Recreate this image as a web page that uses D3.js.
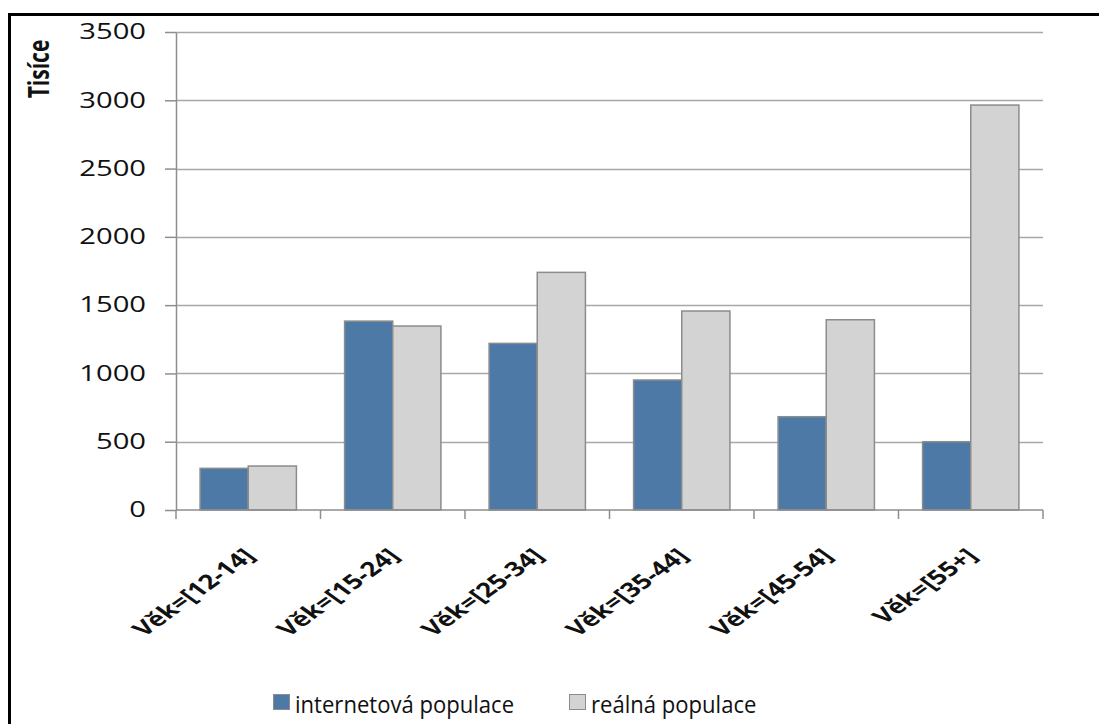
<!DOCTYPE html>
<html>
<head>
<meta charset="utf-8">
<script src="https://cdn.jsdelivr.net/npm/d3@7"></script>
<style>
  html, body { margin: 0; padding: 0; background: #ffffff; }
  svg { display: block; }
  text { font-family: "Open Sans", "Noto Sans", sans-serif; fill: #111; }
</style>
</head>
<body>
<svg id="chart" width="1099" height="724"></svg>
<script>
// Age groups and population counts (thousands)
const categories = ["Věk=[12-14]", "Věk=[15-24]", "Věk=[25-34]", "Věk=[35-44]", "Věk=[45-54]", "Věk=[55+]"];
const seriesNames = ["internetová populace", "reálná populace"];
const internetPop = [305, 1383, 1220, 952, 683, 500];
const realPop = [322, 1347, 1740, 1457, 1393, 2965];
const yTicks = [0, 500, 1000, 1500, 2000, 2500, 3000, 3500];
const yTitle = "Tisíce";

const colors = { "internetová populace": "#4d79a6", "reálná populace": "#d3d3d3" };
const stretch = 1.39; // horizontal widening of axis lettering

const svg = d3.select("#chart");
const W = 1099, H = 724;
const plot = { left: 176, right: 1043, top: 32, bottom: 510 };

svg.append("rect").attr("width", W).attr("height", H).attr("fill", "#fff");

// frame around the chart (top and left edges)
svg.append("path")
  .attr("d", `M9.5,${H} L9.5,14.5 L${W},14.5`)
  .attr("fill", "none").attr("stroke", "#000").attr("stroke-width", 3);

const x = d3.scaleBand().domain(categories).range([plot.left, plot.right]).padding(0);
const xs = d3.scaleBand().domain(seriesNames).range([0, x.bandwidth()]).paddingInner(0).paddingOuter(0.5);
const y = d3.scaleLinear().domain([0, 3500]).range([plot.bottom, plot.top]);

const rows = categories.map((c, i) => ({ cat: c, values: [
  { s: seriesNames[0], v: internetPop[i] },
  { s: seriesNames[1], v: realPop[i] }
]}));

// gridlines
svg.append("g").selectAll("line").data(yTicks.filter(t => t > 0)).join("line")
  .attr("x1", plot.left).attr("x2", plot.right)
  .attr("y1", d => Math.round(y(d)) + 0.5).attr("y2", d => Math.round(y(d)) + 0.5)
  .attr("stroke", "#a8a8a8").attr("stroke-width", 1.5);

// y axis with tick marks, labels drawn separately
const yAxis = svg.append("g").attr("transform", `translate(${plot.left},0)`)
  .call(d3.axisLeft(y).tickValues(yTicks).tickSize(11).tickSizeOuter(0).tickFormat(""));
yAxis.select(".domain").attr("stroke", "#8e8e8e").attr("stroke-width", 1.5);
yAxis.selectAll(".tick line").attr("stroke", "#8e8e8e").attr("stroke-width", 1.5);

svg.append("g").selectAll("text").data(yTicks).join("text")
  .attr("transform", d => `translate(146,${y(d)}) scale(${stretch},1)`)
  .attr("text-anchor", "end").attr("dy", "0.35em")
  .attr("font-size", 21).attr("fill", "#222")
  .text(d => d);

// y title
svg.append("text")
  .attr("transform", `translate(49,69) scale(${stretch},1) rotate(-90)`)
  .attr("text-anchor", "middle").attr("font-size", 21).attr("font-weight", 700)
  .text(yTitle);

// bars
const groups = svg.append("g").selectAll("g").data(rows).join("g")
  .attr("transform", d => `translate(${x(d.cat)},0)`);
groups.selectAll("rect").data(d => d.values).join("rect")
  .attr("x", d => xs(d.s)).attr("width", xs.bandwidth())
  .attr("y", d => y(d.v)).attr("height", d => y(0) - y(d.v))
  .attr("fill", d => colors[d.s])
  .attr("stroke", "#8c8c8c").attr("stroke-width", 1.5);

// x axis line and category boundary ticks
const xg = svg.append("g");
xg.append("line").attr("x1", plot.left).attr("x2", plot.right)
  .attr("y1", plot.bottom).attr("y2", plot.bottom)
  .attr("stroke", "#8e8e8e").attr("stroke-width", 1.5);
const bounds = categories.map(c => x(c)).concat([x(categories[categories.length - 1]) + x.bandwidth()]);
xg.selectAll("line.tk").data(bounds).join("line").attr("class", "tk")
  .attr("x1", d => d).attr("x2", d => d)
  .attr("y1", plot.bottom).attr("y2", plot.bottom + 9)
  .attr("stroke", "#8e8e8e").attr("stroke-width", 1.5);

// rotated category labels
svg.append("g").selectAll("text").data(categories).join("text")
  .attr("transform", d => `translate(${x(d) + x.bandwidth() / 2 + 8},${plot.bottom + 47}) scale(${stretch},1) rotate(-45)`)
  .attr("text-anchor", "end").attr("font-size", 20).attr("font-weight", 700)
  .text(d => d);

// legend
const legendX = [273, 569];
const leg = svg.append("g").selectAll("g").data(seriesNames).join("g")
  .attr("transform", (d, i) => `translate(${legendX[i]},694)`);
leg.append("rect").attr("x", 0.5).attr("y", 0.5).attr("width", 16).attr("height", 15)
  .attr("fill", d => colors[d]).attr("stroke", "#8c8c8c").attr("stroke-width", 1);
leg.append("text").attr("transform", "translate(22,19) scale(0.92,1)")
  .attr("font-size", 24).attr("fill", "#222")
  .text(d => d);
</script>
</body>
</html>
